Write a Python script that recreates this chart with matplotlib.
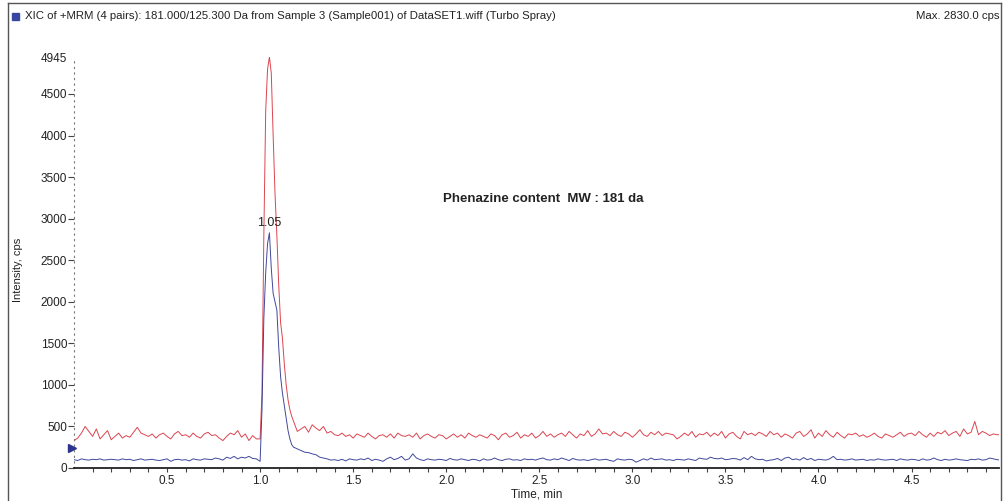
import numpy as np
import matplotlib
matplotlib.use("Agg")
import matplotlib.pyplot as plt
from matplotlib import font_manager
from matplotlib.lines import Line2D
from matplotlib.patches import Rectangle

# ---------------- data ----------------
header_text = "XIC of +MRM (4 pairs): 181.000/125.300 Da from Sample 3 (Sample001) of DataSET1.wiff (Turbo Spray)"
max_text = "Max. 2830.0 cps"
annotation_text = "Phenazine content  MW : 181 da"
peak_label = "1.05"
peak_time = 1.05
peak_blue = 2830
y_top = 4945
y_ticks = [0, 500, 1000, 1500, 2000, 2500, 3000, 3500, 4000, 4500, 4945]
x_ticks = [0.5, 1.0, 1.5, 2.0, 2.5, 3.0, 3.5, 4.0, 4.5]
x_max = 4.97
marker_level = 240

red_pre = [330, 360, 420, 500, 440, 380, 470, 350, 400, 450,
           340, 380, 420, 360, 390, 370, 430, 490, 420, 400,
           380, 410, 360, 400, 420, 380, 350, 410, 440, 390,
           400, 370, 420, 380, 360, 410, 430, 390, 400, 360,
           330, 380, 420, 400, 450, 370, 410, 330, 390, 350]
red_peak_t = [1.00, 1.01, 1.02, 1.03, 1.04, 1.05, 1.06, 1.07, 1.08, 1.09, 1.10,
              1.11, 1.12, 1.13, 1.14, 1.15, 1.16, 1.17, 1.18, 1.19, 1.20]
red_peak = [350, 900, 2800, 4300, 4800, 4945, 4750, 4000, 3300, 2800, 2200,
            1750, 1560, 1250, 1000, 820, 700, 620, 560, 500, 440]
red_post = [470, 500, 430, 520, 480, 450, 500, 420, 440, 400,
            390, 420, 380, 400, 360, 410, 390, 370, 420, 380,
            350, 390, 400, 370, 410, 360, 420, 390, 380, 400,
            370, 420, 350, 390, 410, 380, 360, 400, 390, 350,
            380, 410, 370, 400, 360, 420, 390, 370, 400, 380,
            360, 410, 390, 340, 400, 420, 370, 390, 430, 360,
            400, 380, 420, 360, 390, 440, 380, 410, 370, 400,
            420, 380, 440, 400, 360, 410, 390, 450, 380, 410,
            470, 410, 420, 390, 440, 400, 380, 430, 410, 370,
            410, 460, 400, 380, 430, 400, 440, 390, 420, 410,
            400, 350, 380, 420, 390, 440, 370, 410, 400, 430,
            380, 420, 390, 440, 360, 410, 430, 380, 350, 440,
            400, 420, 390, 430, 410, 380, 440, 400, 420, 370,
            410, 390, 360, 420, 440, 380, 410, 460, 360, 420,
            380, 450, 400, 370, 430, 390, 360, 410, 400, 420,
            380, 400, 370, 390, 420, 380, 360, 410, 390, 370,
            400, 430, 380, 410, 420, 390, 440, 400, 370, 420,
            380, 430, 410, 450, 390, 420, 440, 380, 470, 410,
            430, 560, 400, 440, 420, 390, 410, 400, 400]

blue_pre = [100, 90, 110, 100, 95, 105, 100, 110, 95, 100,
            105, 100, 95, 110, 100, 105, 90, 100, 110, 95,
            100, 105, 95, 90, 100, 110, 80, 100, 105, 95,
            100, 85, 110, 100, 95, 110, 105, 100, 120, 110,
            95, 130, 115, 140, 110, 130, 120, 140, 115, 110]
blue_peak_t = [1.00, 1.01, 1.02, 1.03, 1.04, 1.05, 1.06, 1.07, 1.08, 1.09, 1.10,
               1.11, 1.12, 1.13, 1.14, 1.15, 1.16, 1.17, 1.18, 1.19, 1.20,
               1.22, 1.24, 1.26, 1.28, 1.30, 1.32, 1.34]
blue_peak = [80, 700, 1800, 2350, 2700, 2830, 2400, 2100, 2000, 1900, 1450,
             1100, 900, 750, 600, 450, 350, 280, 250, 240, 230,
             210, 190, 185, 170, 160, 130, 120]
blue_post = [110, 95, 100, 90, 105, 85, 110, 100, 95, 110,
             100, 120, 90, 105, 95, 80, 110, 130, 100, 115,
             140, 95, 110, 170, 120, 100, 90, 110, 100, 95,
             105, 100, 90, 115, 100, 95, 110, 100, 90, 105,
             100, 85, 110, 95, 100, 120, 100, 90, 105, 110,
             95, 100, 90, 110, 100, 105, 95, 110, 120, 100,
             95, 110, 100, 120, 105, 90, 115, 100, 95, 100,
             90, 100, 110, 95, 100, 105, 90, 80, 110, 100,
             95, 105, 100, 70, 90, 110, 95, 120, 100, 105,
             110, 95, 100, 90, 105, 100, 95, 110, 100, 90,
             120, 110, 105, 130, 115, 110, 120, 100, 105, 115,
             110, 95, 125, 100, 140, 110, 100, 105, 85, 95,
             100, 115, 90, 120, 130, 100, 110, 95, 125, 100,
             115, 90, 105, 100, 95, 110, 140, 100, 105, 95,
             100, 110, 95, 100, 105, 90, 100, 95, 110, 100,
             95, 100, 105, 90, 110, 100, 95, 105, 100, 90,
             110, 95, 100, 120, 100, 90, 105, 95, 100, 110,
             100, 95, 90, 105, 100, 110, 95, 100, 120, 110,
             100, 95]

# sampling grids (0.02 min spacing)
t_pre = np.round(0.0 + 0.02 * np.arange(len(red_pre)), 2)
t_red_post = np.round(1.22 + 0.02 * np.arange(len(red_post)), 2)
t_blue_pre = np.round(0.0 + 0.02 * np.arange(len(blue_pre)), 2)
t_blue_post = np.round(1.36 + 0.02 * np.arange(len(blue_post)), 2)

red_t = np.concatenate([t_pre, red_peak_t, t_red_post])
red_y = np.concatenate([red_pre, red_peak, red_post])
blue_t = np.concatenate([t_blue_pre, blue_peak_t, t_blue_post])
blue_y = np.concatenate([blue_pre, blue_peak, blue_post])

# ---------------- style ----------------
avail = {f.name for f in font_manager.fontManager.ttflist}
narrow = 'Liberation Sans Narrow' if 'Liberation Sans Narrow' in avail else 'Liberation Sans'
plt.rcParams['font.family'] = [narrow, 'DejaVu Sans']

W, H = 1007, 501
fig = plt.figure(figsize=(W / 100, H / 100), dpi=100)
fig.patch.set_facecolor('white')

def fx(px):
    return px / W

def fy(py):
    return 1 - py / H

# outer frame
for (x0, y0, x1, y1) in [(8, 3, 8, 501), (1001, 3, 1001, 501), (8, 3, 1001, 3)]:
    fig.add_artist(Line2D([fx(x0), fx(x1)], [fy(y0), fy(y1)], color='#555555', lw=1.0,
                          transform=fig.transFigure))

# header
fig.add_artist(Rectangle((fx(12), fy(20)), 7 / W, 7 / H, facecolor='#3848a0',
                         edgecolor='#3848a0', transform=fig.transFigure))
fig.text(fx(25), fy(16), header_text, fontsize=8.2, va='center', ha='left', color='#222222')
fig.text(fx(999), fy(16), max_text, fontsize=8.2, va='center', ha='right', color='#222222')

# axes
ax = fig.add_axes([fx(74), fy(468), fx(999) - fx(74), fy(57) - fy(468)])
ax.plot(red_t, red_y, color='#d8303c', lw=0.7, alpha=0.9)
ax.plot(blue_t, blue_y, color='#2c3490', lw=0.7, alpha=0.9)

ax.set_xlim(0, x_max)
ax.set_ylim(0, y_top)

for s in ['top', 'right']:
    ax.spines[s].set_visible(False)
ax.spines['left'].set_linestyle((0, (1, 4)))
ax.spines['left'].set_color('#777777')
ax.spines['left'].set_linewidth(0.8)
ax.spines['bottom'].set_color('#222222')
ax.spines['bottom'].set_linewidth(1.3)

ax.set_yticks(y_ticks)
ax.set_yticklabels([str(v) for v in y_ticks])
ax.set_xticks(x_ticks)
ax.set_xticklabels([f"{v:.1f}" for v in x_ticks])
ax.set_xticks(np.round(np.arange(0.1, x_max, 0.1), 1), minor=True)
ax.tick_params(axis='y', length=4, width=0.8, pad=1, labelsize=8.5, color='#444444',
               labelcolor='#222222')
ax.tick_params(axis='x', which='both', length=3, width=0.8, pad=2, labelsize=8.5,
               color='#444444', labelcolor='#222222', direction='out')
ax.yaxis.get_major_ticks()[-1].tick1line.set_visible(False)

ax.set_xlabel("Time, min", fontsize=8.5, labelpad=1, color='#222222')
fig.text(fx(18), fy(270), "Intensity, cps", rotation=90, fontsize=8, va='center', ha='center',
         color='#222222')

# peak label
ax.text(peak_time, peak_blue + 40, peak_label, fontsize=9, ha='center', va='bottom', color='#222222')

# annotation
ax.text((fx(543) - fx(74)) / (fx(999) - fx(74)), (fy(199) - fy(468)) / (fy(57) - fy(468)),
        annotation_text, transform=ax.transAxes, fontsize=9.5, fontweight='bold',
        ha='center', va='center', color='#222222', family=['Liberation Sans', 'DejaVu Sans'])

# left marker
ax.plot([-0.012], [marker_level], marker='>', markersize=6, color='#2c3490', clip_on=False)

fig.savefig('out.png', dpi=100)
